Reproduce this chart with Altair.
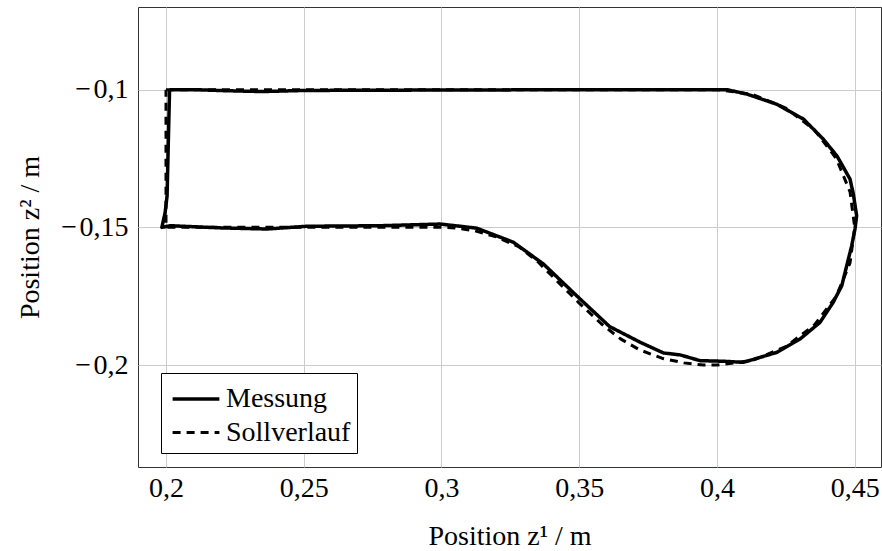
import altair as alt
import pandas as pd

# Sollverlauf (reference path)
soll_x = [0.2, 0.25, 0.3, 0.35, 0.4,
          0.4129, 0.425, 0.4354, 0.4433, 0.4483, 0.45, 0.4483, 0.4433, 0.4354, 0.425, 0.4129, 0.4,
          0.395, 0.388, 0.38, 0.372, 0.365, 0.358, 0.35, 0.342, 0.335, 0.328, 0.32, 0.312, 0.305, 0.3,
          0.25, 0.2, 0.2]
soll_y = [-0.1, -0.1, -0.1, -0.1, -0.1,
          -0.1017, -0.1067, -0.1146, -0.125, -0.1371, -0.15, -0.1629, -0.175, -0.1854, -0.1933, -0.1983, -0.2,
          -0.2, -0.1992, -0.1975, -0.1945, -0.1905, -0.185, -0.1775, -0.1695, -0.1625, -0.157, -0.1535, -0.1512, -0.1502, -0.15,
          -0.15, -0.15, -0.1]

# Messung (measured path)
mess_x = [0.2013, 0.21, 0.222, 0.235, 0.25, 0.28, 0.32, 0.36, 0.4036,
          0.4108, 0.4217, 0.4314, 0.4386, 0.4435, 0.4459, 0.4483, 0.4495, 0.4507, 0.4501, 0.4489,
          0.4471, 0.4453, 0.4422, 0.4374, 0.4302, 0.4217, 0.4096, 0.4022, 0.3939, 0.3866, 0.3806,
          0.3721, 0.361, 0.3503, 0.337, 0.3261, 0.3128, 0.3068, 0.2995, 0.2778, 0.2512, 0.2366,
          0.22, 0.2016, 0.1985, 0.1997, 0.2004, 0.2009, 0.2013]
mess_y = [-0.1, -0.1, -0.1004, -0.1007, -0.1003, -0.1002, -0.1001, -0.1, -0.1,
          -0.1016, -0.1053, -0.1107, -0.118, -0.124, -0.1282, -0.1325, -0.1379, -0.1458, -0.1506, -0.1567,
          -0.1639, -0.1712, -0.1772, -0.1845, -0.1905, -0.1954, -0.199, -0.1986, -0.1984, -0.1963, -0.1956,
          -0.1917, -0.186, -0.176, -0.1633, -0.1554, -0.1503, -0.1496, -0.1488, -0.1494, -0.1496, -0.1506,
          -0.1502, -0.1494, -0.15, -0.1446, -0.1385, -0.1167, -0.1]

series = ["Messung", "Sollverlauf"]
x_ticks = [0.2, 0.25, 0.3, 0.35, 0.4, 0.45]
y_ticks = [-0.2, -0.15, -0.1]
x_domain = [0.18984, 0.45954]
y_domain = [-0.2370, -0.0700]

rows = []
for i, (a, b) in enumerate(zip(mess_x, mess_y)):
    rows.append({"x": a, "y": b, "s": series[0], "i": i})
for i, (a, b) in enumerate(zip(soll_x, soll_y)):
    rows.append({"x": a, "y": b, "s": series[1], "i": i})
df = pd.DataFrame(rows)

font = "Liberation Serif"
label_expr = "replace(replace(format(datum.value, '~g'), '.', ','), '\u2212', '\u2212\u200a')"

chart = alt.Chart(df).mark_line(color="black", strokeCap="butt", strokeJoin="round").encode(
    x=alt.X("x:Q", scale=alt.Scale(domain=x_domain, nice=False, zero=False),
            axis=alt.Axis(values=x_ticks, labelExpr=label_expr, title="Position z¹ / m",
                          grid=True, ticks=False, domain=False, labelPadding=7,
                          titlePadding=20)),
    y=alt.Y("y:Q", scale=alt.Scale(domain=y_domain, nice=False, zero=False),
            axis=alt.Axis(values=y_ticks, labelExpr=label_expr, title="Position z² / m",
                          grid=True, ticks=False, domain=False, labelPadding=10,
                          titlePadding=16)),
    strokeDash=alt.StrokeDash("s:N", scale=alt.Scale(domain=series, range=[[1, 0], [8, 6]]),
                              legend=alt.Legend(title=None, orient="none", legendX=23, legendY=366,
                                                symbolType="M-1.3,0H1.3", symbolSize=1296,
                                                symbolOffset=9,
                                                symbolStrokeWidth=3.5, symbolStrokeColor="black",
                                                symbolFillColor="transparent",
                                                labelFontSize=28, labelFont=font, labelColor="black",
                                                strokeColor="black", fillColor="white",
                                                padding=6, rowPadding=0, labelOffset=10,
                                                cornerRadius=0)),
    strokeWidth=alt.StrokeWidth("s:N", scale=alt.Scale(domain=series, range=[3.5, 3]), legend=None),
    order=alt.Order("i:Q"),
).properties(
    width=743, height=460,
    autosize=alt.AutoSizeParams(type="none"),
    padding={"left": 138, "top": 7, "right": 1, "bottom": 84},
).configure_view(
    stroke="#333333", strokeWidth=1
).configure_axis(
    labelFont=font, titleFont=font, labelFontSize=28, titleFontSize=28,
    labelColor="black", titleColor="black", titleFontWeight="normal",
    gridColor="#cccccc", gridWidth=1
)

chart.save("out.html", embed_options={"renderer": "svg", "actions": False})
